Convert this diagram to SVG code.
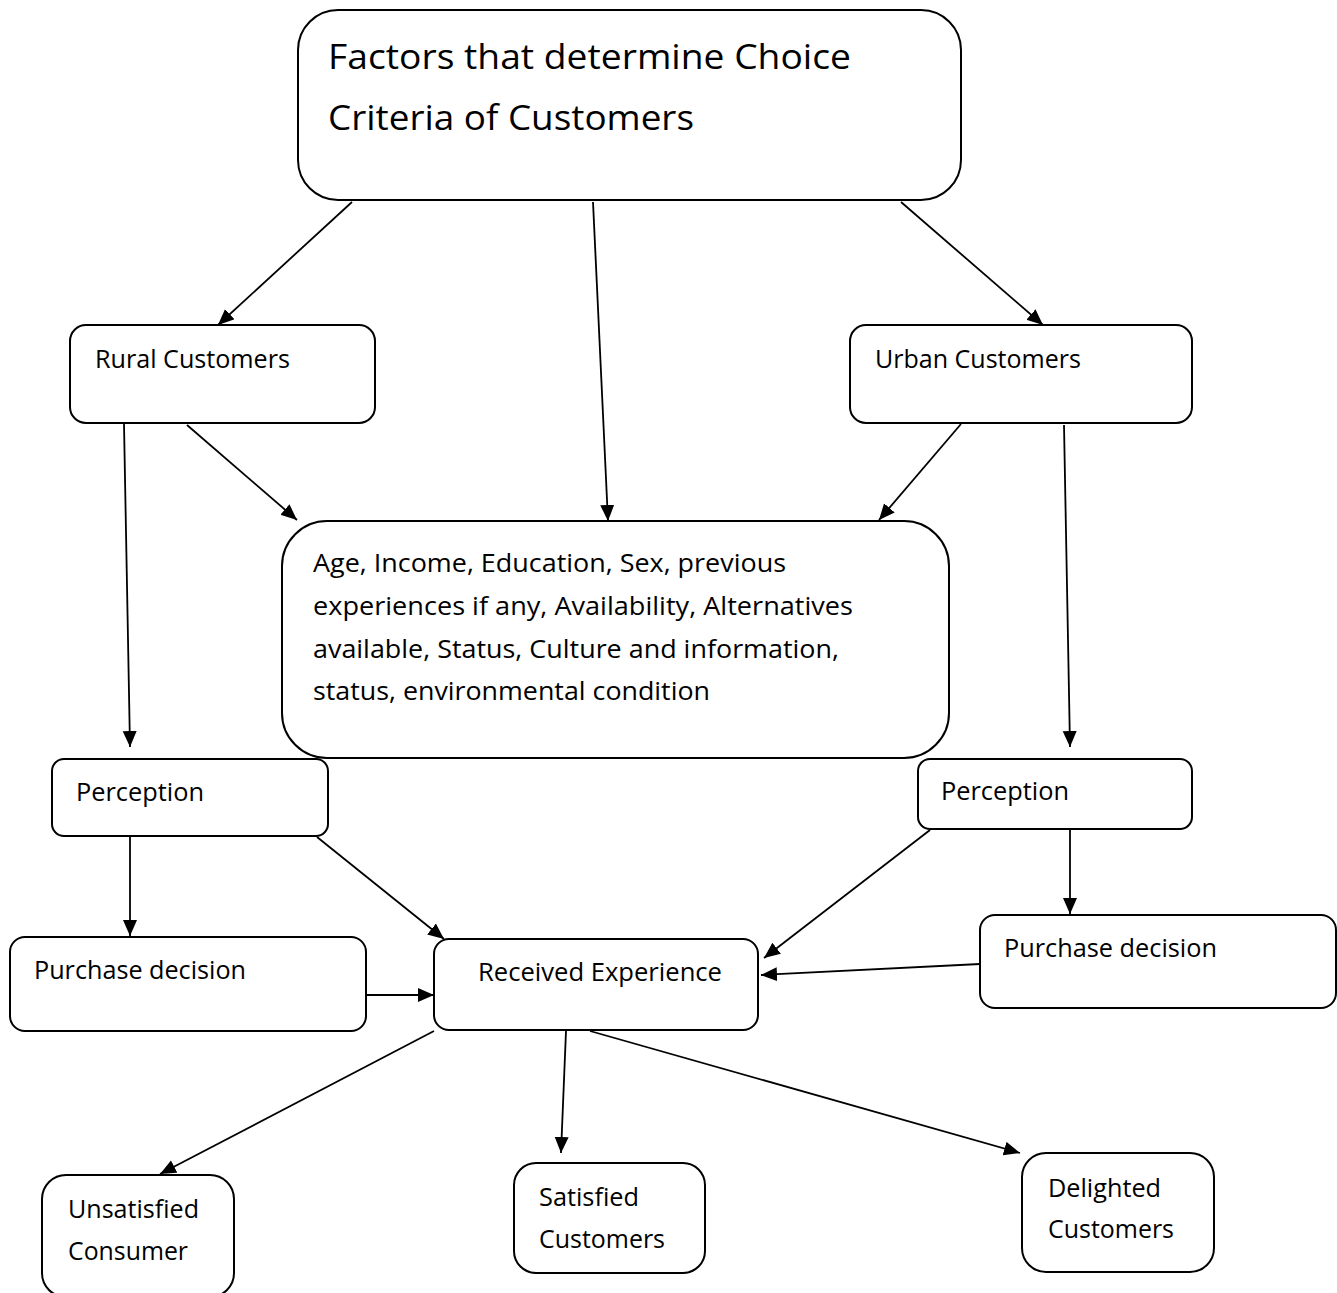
<svg xmlns="http://www.w3.org/2000/svg" width="1337" height="1293" viewBox="0 0 1337 1293">
<style>
.box{fill:#fff;stroke:#000;stroke-width:2}
.t{font-family:"Open Sans","Noto Sans","Liberation Sans",sans-serif;font-size:26px;fill:#000}
.big{font-size:35px}
.c line{stroke:#000;stroke-width:1.8;marker-end:url(#ah)}
</style>
<defs>
<marker id="ah" markerUnits="userSpaceOnUse" markerWidth="18" markerHeight="16" refX="16" refY="7" orient="auto">
<path d="M0,0 L16,7 L0,14 z" fill="#000"/>
</marker>
</defs>
<rect width="1337" height="1293" fill="#fff"/>
<g class="c" id="connectors">
<line x1="352" y1="202" x2="218" y2="325"/>
<line x1="593" y1="202" x2="608" y2="521"/>
<line x1="901" y1="202" x2="1043" y2="325"/>
<line x1="124" y1="424" x2="130" y2="747"/>
<line x1="187" y1="425" x2="297" y2="520"/>
<line x1="961" y1="424" x2="879" y2="520"/>
<line x1="1064" y1="425" x2="1070" y2="747"/>
<line x1="130" y1="837" x2="130" y2="936"/>
<line x1="317" y1="837" x2="444" y2="939"/>
<line x1="366" y1="995" x2="434" y2="995"/>
<line x1="930" y1="830" x2="764" y2="958"/>
<line x1="980" y1="964" x2="761" y2="975"/>
<line x1="1070" y1="830" x2="1070" y2="914"/>
<line x1="434" y1="1031" x2="160" y2="1174"/>
<line x1="566" y1="1031" x2="561" y2="1153"/>
<line x1="590" y1="1031" x2="1020" y2="1153"/>
</g>
<g id="top">
<rect class="box" x="298" y="10" width="663" height="190" rx="40"/>
<text class="t big" x="328" y="69" textLength="523" lengthAdjust="spacingAndGlyphs">Factors that determine Choice</text>
<text class="t big" x="328" y="130" textLength="366" lengthAdjust="spacingAndGlyphs">Criteria of Customers</text>
</g>
<g id="rural">
<rect class="box" x="70" y="325" width="305" height="98" rx="16"/>
<text class="t" x="95" y="368" textLength="195" lengthAdjust="spacingAndGlyphs">Rural Customers</text>
</g>
<g id="urban">
<rect class="box" x="850" y="325" width="342" height="98" rx="16"/>
<text class="t" x="875" y="368" textLength="206" lengthAdjust="spacingAndGlyphs">Urban Customers</text>
</g>
<g id="factors">
<rect class="box" x="282" y="521" width="667" height="237" rx="45"/>
<text class="t" x="313" y="572" textLength="473" lengthAdjust="spacingAndGlyphs">Age, Income, Education, Sex, previous</text>
<text class="t" x="313" y="615" textLength="540" lengthAdjust="spacingAndGlyphs">experiences if any, Availability, Alternatives</text>
<text class="t" x="313" y="658" textLength="526" lengthAdjust="spacingAndGlyphs">available, Status, Culture and information,</text>
<text class="t" x="313" y="700" textLength="397" lengthAdjust="spacingAndGlyphs">status, environmental condition</text>
</g>
<g id="perception-left">
<rect class="box" x="52" y="759" width="276" height="77" rx="12"/>
<text class="t" x="76" y="801" textLength="128" lengthAdjust="spacingAndGlyphs">Perception</text>
</g>
<g id="perception-right">
<rect class="box" x="918" y="759" width="274" height="70" rx="12"/>
<text class="t" x="941" y="800" textLength="128" lengthAdjust="spacingAndGlyphs">Perception</text>
</g>
<g id="purchase-left">
<rect class="box" x="10" y="937" width="356" height="94" rx="15"/>
<text class="t" x="34" y="979" textLength="212" lengthAdjust="spacingAndGlyphs">Purchase decision</text>
</g>
<g id="received">
<rect class="box" x="434" y="939" width="324" height="91" rx="15"/>
<text class="t" x="478" y="981" textLength="244" lengthAdjust="spacingAndGlyphs">Received Experience</text>
</g>
<g id="purchase-right">
<rect class="box" x="980" y="915" width="356" height="93" rx="15"/>
<text class="t" x="1004" y="957" textLength="213" lengthAdjust="spacingAndGlyphs">Purchase decision</text>
</g>
<g id="unsatisfied">
<rect class="box" x="42" y="1175" width="192" height="122" rx="24"/>
<text class="t" x="68" y="1218" textLength="131" lengthAdjust="spacingAndGlyphs">Unsatisfied</text>
<text class="t" x="68" y="1260" textLength="120" lengthAdjust="spacingAndGlyphs">Consumer</text>
</g>
<g id="satisfied">
<rect class="box" x="514" y="1163" width="191" height="110" rx="22"/>
<text class="t" x="539" y="1206" textLength="100" lengthAdjust="spacingAndGlyphs">Satisfied</text>
<text class="t" x="539" y="1248" textLength="126" lengthAdjust="spacingAndGlyphs">Customers</text>
</g>
<g id="delighted">
<rect class="box" x="1022" y="1153" width="192" height="119" rx="24"/>
<text class="t" x="1048" y="1197" textLength="113" lengthAdjust="spacingAndGlyphs">Delighted</text>
<text class="t" x="1048" y="1238" textLength="126" lengthAdjust="spacingAndGlyphs">Customers</text>
</g>
</svg>
